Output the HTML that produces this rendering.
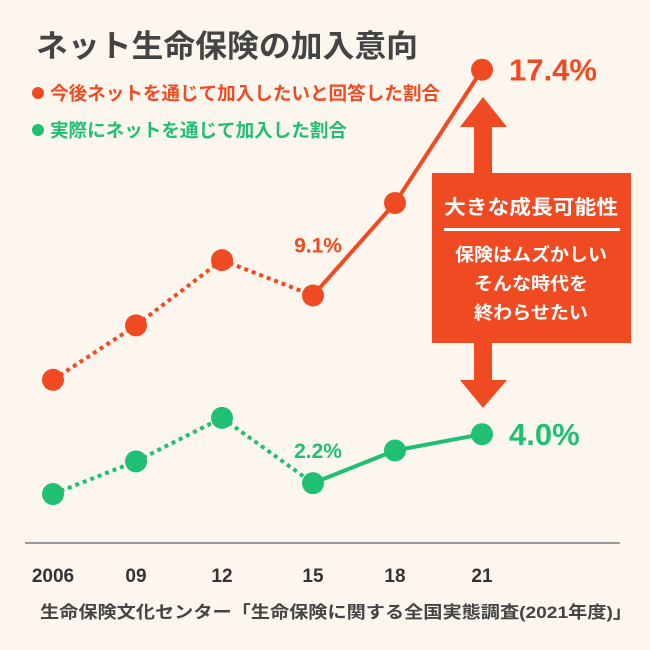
<!DOCTYPE html>
<html><head><meta charset="utf-8">
<style>
body{margin:0;background:#fdf6ee;}
svg{display:block;font-family:"Liberation Sans","Noto Sans CJK JP",sans-serif;}
</style></head>
<body>
<svg width="650" height="650" viewBox="0 0 650 650">
<rect width="650" height="650" fill="#fdf6ee"/>
<text x="36" y="57" font-size="31" font-weight="bold" fill="#444" textLength="382" lengthAdjust="spacingAndGlyphs">ネット生命保険の加入意向</text>
<circle cx="38" cy="93" r="6" fill="#f04a23"/>
<text x="50" y="100" font-size="18.5" font-weight="bold" fill="#f04a23" textLength="390" lengthAdjust="spacingAndGlyphs">今後ネットを通じて加入したいと回答した割合</text>
<circle cx="38" cy="130" r="6" fill="#1fbf74"/>
<text x="50" y="137" font-size="18.5" font-weight="bold" fill="#1fbf74" textLength="297" lengthAdjust="spacingAndGlyphs">実際にネットを通じて加入した割合</text>
<line x1="25" y1="543" x2="620" y2="543" stroke="#999" stroke-width="2"/>
<g id="marks"></g>
<g>
<rect x="474" y="120" width="18" height="60" fill="#f04a23"/>
<polygon points="460,127 507,127 483,97" fill="#f04a23"/>
<rect x="474" y="336" width="18" height="48" fill="#f04a23"/>
<polygon points="460,380 507,380 483,408" fill="#f04a23"/>
<rect x="432" y="173" width="199" height="170" fill="#f04a23"/>
<text x="531" y="214" font-size="20" font-weight="bold" fill="#fff" text-anchor="middle" textLength="174" lengthAdjust="spacingAndGlyphs">大きな成長可能性</text>
<rect x="444" y="228" width="176" height="3" fill="#fff"/>
<text x="531" y="261" font-size="18" font-weight="bold" fill="#fff" text-anchor="middle" textLength="152" lengthAdjust="spacingAndGlyphs">保険はムズかしい</text>
<text x="531" y="290" font-size="18" font-weight="bold" fill="#fff" text-anchor="middle" textLength="114" lengthAdjust="spacingAndGlyphs">そんな時代を</text>
<text x="531" y="319" font-size="18" font-weight="bold" fill="#fff" text-anchor="middle" textLength="114" lengthAdjust="spacingAndGlyphs">終わらせたい</text>
</g>
<text x="40" y="618" font-size="17" font-weight="bold" fill="#444" textLength="592" lengthAdjust="spacingAndGlyphs">生命保険文化センター「生命保険に関する全国実態調査(2021年度)」</text>
</svg>
<script>
const categories=["2006","09","12","15","18","21"];
const intentValues=[6.0,8.0,10.4,9.1,12.5,17.4];
const actualValues=[1.8,3.0,4.6,2.2,3.4,4.0];
const xPos=[53,136,222,313,395,482];
function x(i){return xPos[i];}
function y(v){return 543-v*27.2;}
const NS="http://www.w3.org/2000/svg";
const g=document.getElementById('marks');
function mk(t,a){const e=document.createElementNS(NS,t);for(const k in a)e.setAttribute(k,a[k]);g.appendChild(e);return e;}
function series(vals,color,name){
  for(let i=0;i<vals.length-1;i++){
    const l=mk('line',{x1:x(i),y1:y(vals[i]),x2:x(i+1),y2:y(vals[i+1]),stroke:color,'stroke-width':4});
    if(i<3)l.setAttribute('stroke-dasharray','4 4');
    
    
  }
  vals.forEach((v,i)=>{
    const c=mk('circle',{cx:x(i),cy:y(v),r:11,fill:color});
    
    
  });
}
series(intentValues,"#f04a23","intent");
series(actualValues,"#1fbf74","actual");
categories.forEach((c,i)=>{
  const t=mk('text',{x:x(i),y:582,'font-size':19,'font-weight':'bold',fill:'#333','text-anchor':'middle'});
  t.textContent=c;
  
  
});
const t1=mk('text',{x:x(3)+5,y:y(intentValues[3])-43,'font-size':21,'font-weight':'bold',fill:'#f04a23','text-anchor':'middle'});
t1.textContent=intentValues[3].toFixed(1)+"%";


const t2=mk('text',{x:x(3)+5,y:y(actualValues[3])-25,'font-size':21,'font-weight':'bold',fill:'#1fbf74','text-anchor':'middle'});
t2.textContent=actualValues[3].toFixed(1)+"%";


const t3=mk('text',{x:x(5)+27,y:y(intentValues[5])+11,'font-size':31,'font-weight':'bold',fill:'#f04a23'});
t3.textContent=intentValues[5].toFixed(1)+"%";


const t4=mk('text',{x:x(5)+27,y:y(actualValues[5])+11,'font-size':31,'font-weight':'bold',fill:'#1fbf74'});
t4.textContent=actualValues[5].toFixed(1)+"%";


</script>
</body></html>
